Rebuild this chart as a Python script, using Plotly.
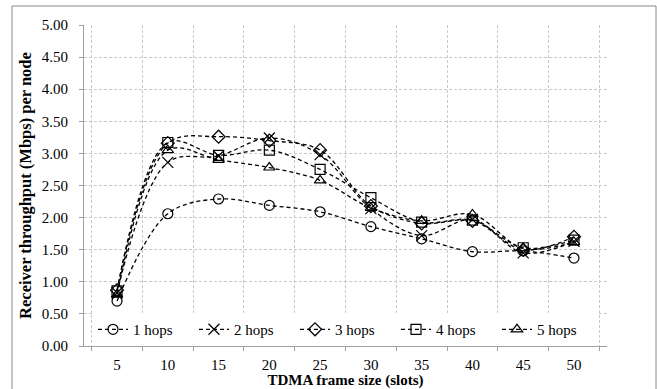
import plotly.graph_objects as go

frame_sizes = ["5", "10", "15", "20", "25", "30", "35", "40", "45", "50"]
hops_1 = [0.70, 2.06, 2.29, 2.19, 2.09, 1.86, 1.67, 1.47, 1.48, 1.37]
hops_2 = [0.83, 2.86, 2.96, 3.24, 2.98, 2.14, 1.72, 1.97, 1.45, 1.63]
hops_3 = [0.87, 3.16, 3.26, 3.20, 3.05, 2.18, 1.91, 1.95, 1.50, 1.70]
hops_4 = [0.86, 3.17, 2.97, 3.05, 2.75, 2.31, 1.93, 1.96, 1.53, 1.65]
hops_5 = [0.80, 3.05, 2.90, 2.78, 2.58, 2.15, 1.95, 2.05, 1.52, 1.62]
series_names = ["1 hops", "2 hops", "3 hops", "4 hops", "5 hops"]
series_values = [hops_1, hops_2, hops_3, hops_4, hops_5]
symbols = ["circle-open", "x-thin-open", "diamond-open", "square-open", "triangle-up-open"]
y_ticks = [0, 0.5, 1, 1.5, 2, 2.5, 3, 3.5, 4, 4.5, 5]

FONT = "Liberation Serif"

fig = go.Figure()
for name, vals, sym in zip(series_names, series_values, symbols):
    fig.add_trace(go.Scatter(
        x=frame_sizes, y=vals, name=name, mode="lines+markers",
        line=dict(color="black", width=1.3, dash="4px,3px", shape="spline", smoothing=1.0),
        marker=dict(symbol=sym, size=10 if sym != "x-thin-open" else 11,
                    color="black", line=dict(color="black", width=1.2)),
    ))

fig.update_layout(
    width=657, height=389,
    margin=dict(l=84, r=50, t=25, b=43, autoexpand=False),
    paper_bgcolor="white", plot_bgcolor="white",
    font=dict(family=FONT, size=14, color="black"),
    showlegend=True,
    legend=dict(orientation="h", x=0.5, xanchor="center", y=-0.0001, yanchor="bottom",
                bgcolor="white", entrywidth=56, font=dict(family=FONT, size=15),
                itemwidth=30, tracegroupgap=0, itemclick=False),
    xaxis=dict(
        type="category", tickson="boundaries", automargin=False,
        showline=True, linecolor="#a0a0a0", linewidth=1,
        ticks="outside", ticklen=4, tickcolor="#a0a0a0",
        showgrid=True, gridcolor="#c8c8c8", griddash="3px,2px", gridwidth=1,
        tickfont=dict(family=FONT, size=15), ticklabelstandoff=5,
        title=dict(text="<b>TDMA frame size (slots)</b>", font=dict(family=FONT, size=15), standoff=1),
    ),
    yaxis=dict(
        range=[0, 5], tickvals=y_ticks, tickformat=".2f", automargin=False,
        showline=True, linecolor="#a0a0a0", linewidth=1,
        ticks="outside", ticklen=4, tickcolor="#a0a0a0",
        showgrid=True, gridcolor="#c8c8c8", griddash="3px,2px", gridwidth=1,
        zeroline=False,
        tickfont=dict(family=FONT, size=15), ticklabelstandoff=8,
        title=dict(text="<b>Receiver throughput (Mbps) per node</b>", font=dict(family=FONT, size=16.5), standoff=5),
    ),
)

# outer chart border
fig.add_shape(type="rect", xref="paper", yref="paper",
              x0=(12 - 84) / 523, x1=(656 - 84) / 523,
              y0=-(395 - 346) / 321, y1=1 + (25 - 6) / 321,
              line=dict(color="#888888", width=1), fillcolor="rgba(0,0,0,0)", layer="below")

fig.write_html("out.html", config={"displayModeBar": False},
               post_script="document.body.style.margin='0';document.body.style.overflow='hidden';")
